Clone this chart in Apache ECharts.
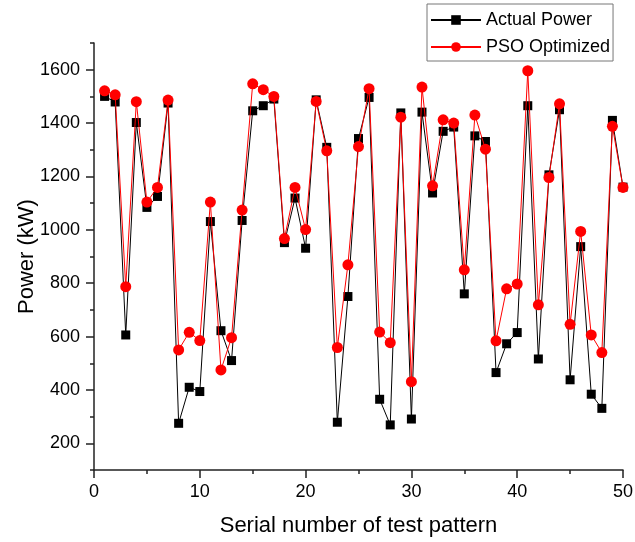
<!DOCTYPE html>
<html>
<head>
<meta charset="utf-8">
<script src="https://cdn.jsdelivr.net/npm/echarts@6/dist/echarts.min.js"></script>
<style>
html,body{margin:0;padding:0;background:#fff;}
#chart{width:635px;height:542px;}
</style>
</head>
<body>
<div id="chart"></div>
<script>
const testPattern = [1,2,3,4,5,6,7,8,9,10,11,12,13,14,15,16,17,18,19,20,21,22,23,24,25,26,27,28,29,30,31,32,33,34,35,36,37,38,39,40,41,42,43,44,45,46,47,48,49,50];
const actualPower = [1500,1479,606,1402,1084,1125,1475,275,410,394,1031,622,510,1035,1446,1465,1490,952,1119,931,1487,1309,279,750,1342,1496,365,269,1438,291,1441,1138,1369,1385,760,1352,1331,465,573,615,1465,516,1206,1450,438,937,384,331,1410,1160];
const psoOptimized = [1521,1506,787,1480,1104,1159,1486,550,616,585,1104,475,596,1074,1547,1525,1500,967,1159,1001,1481,1296,559,869,1312,1529,617,577,1422,431,1535,1165,1412,1400,850,1430,1302,584,779,797,1596,719,1196,1472,646,994,606,540,1388,1159];
const yMajorTicks = [200,400,600,800,1000,1200,1400,1600];
const yMinorTicks = [100,300,500,700,900,1100,1300,1500,1700];

const FONT = 'Liberation Sans, Arial, sans-serif';
const chart = echarts.init(document.getElementById('chart'), null, {renderer: 'canvas'});
const pairs = (ys) => testPattern.map((x, i) => [x, ys[i]]);

chart.setOption({
  animation: false,
  backgroundColor: '#fff',
  grid: {left: 94, right: 12, top: 43, bottom: 72, containLabel: false, outerBoundsMode: 'none'},
  legend: {
    orient: 'vertical',
    left: 427, top: 4,
    padding: [7, 3, 5, 3],
    itemWidth: 50, itemHeight: 12, itemGap: 9,
    borderColor: '#777', borderWidth: 1, backgroundColor: '#fff',
    textStyle: {fontFamily: FONT, fontSize: 18, color: '#000', padding: [0,0,0,0]},
    data: ['Actual Power', 'PSO Optimized']
  },
  xAxis: {
    type: 'value', min: 0, max: 50, interval: 10,
    name: 'Serial number of test pattern', nameLocation: 'middle', nameGap: 45, nameMoveOverlap: false,
    nameTextStyle: {fontFamily: FONT, fontSize: 22, color: '#000'},
    axisLine: {show: true, lineStyle: {color: '#222', width: 1.5}},
    axisTick: {show: true, inside: false, length: 8, lineStyle: {color: '#222', width: 1.5}},
    minorTick: {show: true, splitNumber: 2, length: 4, lineStyle: {color: '#222', width: 1.5}},
    axisLabel: {fontFamily: FONT, fontSize: 18, color: '#000', margin: 13, formatter: (v) => String(v)},
    splitLine: {show: false}
  },
  yAxis: [{
    type: 'value', min: 100, max: 1700, interval: 100,
    name: 'Power (kW)', nameLocation: 'middle', nameGap: 56, nameMoveOverlap: false,
    nameTextStyle: {fontFamily: FONT, fontSize: 22, color: '#000'},
    axisLine: {show: true, lineStyle: {color: '#222', width: 1.5}},
    axisTick: {show: true, inside: false, length: 8, customValues: yMajorTicks, lineStyle: {color: '#222', width: 1.5}},
    axisLabel: {fontFamily: FONT, fontSize: 18, color: '#000', margin: 14, customValues: yMajorTicks, formatter: (v) => String(v)},
    splitLine: {show: false}
  }, {
    type: 'value', min: 100, max: 1700, interval: 100, position: 'left', offset: 0,
    axisLine: {show: false},
    axisTick: {show: true, inside: false, length: 4, customValues: yMinorTicks, lineStyle: {color: '#222', width: 1.5}},
    axisLabel: {show: false},
    splitLine: {show: false}
  }],
  series: [{
    name: 'Actual Power', type: 'line', data: pairs(actualPower),
    symbol: 'rect', symbolSize: 9,
    lineStyle: {color: '#000', width: 1},
    itemStyle: {color: '#000'},
    clip: true, z: 2
  }, {
    name: 'PSO Optimized', type: 'line', data: pairs(psoOptimized),
    symbol: 'circle', symbolSize: 11,
    lineStyle: {color: '#ff0000', width: 1},
    itemStyle: {color: '#ff0000'},
    clip: true, z: 3
  }]
});
</script>
</body>
</html>
